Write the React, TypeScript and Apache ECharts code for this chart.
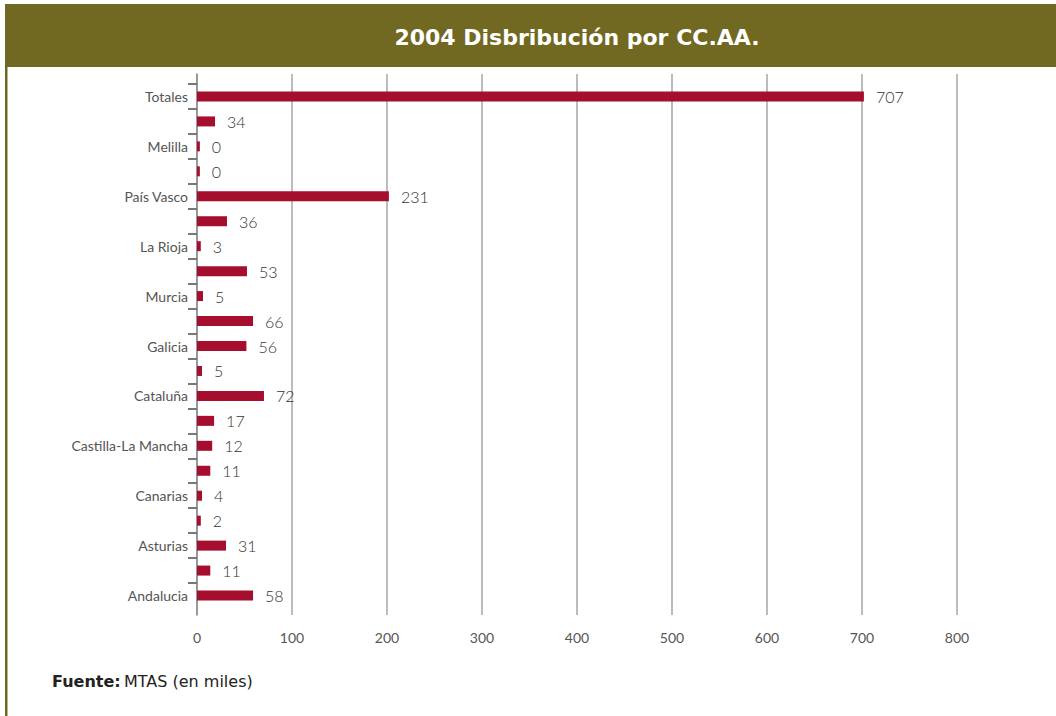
import React, { useEffect, useRef } from "react";
import * as echarts from "echarts";

const categories = [
  "Andalucia", "Aragón", "Asturias", "Baleares", "Canarias", "Cantabria",
  "Castilla-La Mancha", "Castilla y León", "Cataluña", "Extremadura", "Galicia",
  "Madrid", "Murcia", "Navarra", "La Rioja", "C. Valenciana", "País Vasco",
  "Ceuta", "Melilla", "Otros", "Totales",
];
// printed value labels
const labelValues = [58, 11, 31, 2, 4, 11, 12, 17, 72, 5, 56, 66, 5, 53, 3, 36, 231, 0, 0, 34, 707];
// bar lengths as drawn in the picture
const barValues = [59, 14, 30.5, 4, 5.3, 14, 16, 18, 70.5, 5.3, 52, 59, 6.3, 52.6, 4, 31.6, 202, 3, 3, 19, 702];
const xTicks = [0, 100, 200, 300, 400, 500, 600, 700, 800];

const TITLE = "2004 Disbribución por CC.AA.";
const OLIVE = "#716822";
const BAR = "#a50e2d";

export default function App() {
  const ref = useRef<HTMLDivElement>(null);
  useEffect(() => {
    const chart = echarts.init(ref.current!, null, { renderer: "svg" });
    const font = "Lato, 'Open Sans', sans-serif";
    chart.setOption({
      animation: false,
      backgroundColor: "#ffffff",
      textStyle: { fontFamily: font, color: "#404040" },
      grid: [
        { left: 197, width: 760, top: 74, height: 541, containLabel: false },
        { left: 197, width: 760, top: 84, height: 524, containLabel: false },
      ],
      xAxis: [
        {
          gridIndex: 0,
          type: "value",
          min: xTicks[0],
          max: xTicks[xTicks.length - 1],
          interval: 100,
          axisLine: { show: false, lineStyle: { color: "#555" } },
          axisTick: { show: false },
          splitLine: { show: true, lineStyle: { color: "#a6a6a6", width: 1.5 } },
          axisLabel: { color: "#555555", fontSize: 14, margin: 15, fontFamily: font },
        },
        {
          gridIndex: 1,
          type: "value",
          min: xTicks[0],
          max: xTicks[xTicks.length - 1],
          show: false,
        },
      ],
      yAxis: [
        {
          gridIndex: 0,
          type: "value",
          axisLine: { show: true, onZero: false, lineStyle: { color: "#8c8c8c", width: 1.5 } },
          axisTick: { show: false },
          axisLabel: { show: false },
          splitLine: { show: false },
        },
        {
          gridIndex: 1,
          type: "category",
          data: categories,
          axisLine: { show: false },
          axisTick: {
            show: true,
            length: 9,
            interval: (index: number) => index !== 0,
            lineStyle: { color: "#777", width: 2 },
          },
          axisLabel: { interval: 1, color: "#555", fontSize: 14, margin: 9, fontFamily: font },
          splitLine: { show: false },
        },
      ],
      series: [
        {
          type: "bar",
          xAxisIndex: 1,
          yAxisIndex: 1,
          data: barValues,
          barWidth: 10,
          itemStyle: { color: BAR },
          label: {
            show: true,
            position: "right",
            distance: 12,
            color: "#333",
            fontSize: 16,
            fontWeight: 300,
            fontFamily: font,
            formatter: (p: any) => String(labelValues[p.dataIndex]),
          },
        },
      ],
      graphic: [
        { type: "rect", shape: { x: 5, y: 4, width: 1051, height: 63 }, style: { fill: OLIVE } },
        { type: "rect", shape: { x: 5, y: 66, width: 2.5, height: 650 }, style: { fill: OLIVE } },
        {
          type: "text",
          x: 577,
          y: 37,
          style: {
            text: TITLE,
            fill: "#ffffff",
            font: "bold 22px 'DejaVu Sans', sans-serif",
            align: "center",
            verticalAlign: "middle",
          },
        },
        {
          type: "text",
          x: 52,
          y: 681,
          style: {
            text: "{b|Fuente:} {n|MTAS (en miles)}",
            verticalAlign: "middle",
            rich: {
              b: { fontWeight: "bold", fontSize: 16, fill: "#222", fontFamily: "'DejaVu Sans', sans-serif" },
              n: { fontSize: 16, fill: "#222", fontFamily: "'DejaVu Sans', sans-serif" },
            },
          },
        },
      ],
    });
    return () => chart.dispose();
  }, []);
  return (
    <div
      ref={ref}
      style={{ position: "absolute", left: 0, top: 0, width: 1056, height: 716 }}
    />
  );
}
